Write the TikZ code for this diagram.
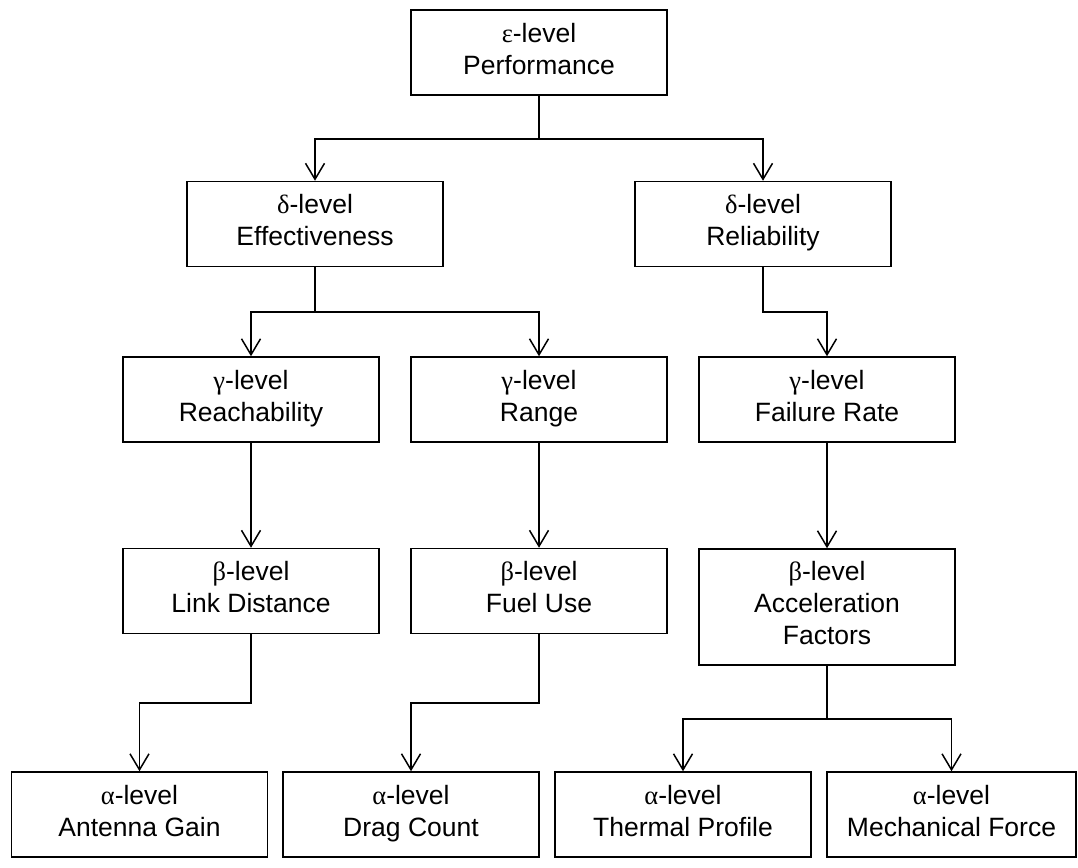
\documentclass[tikz,border=0pt]{standalone}
\usepackage{fontspec}
\setmainfont{Liberation Sans}
\newfontfamily\grk{Liberation Serif}
\usetikzlibrary{arrows.meta}
\newcommand\boxstrut{\rule[-7.5pt]{0pt}{32pt}}
\begin{document}
\begin{tikzpicture}[x=1pt,y=-1pt,
  box/.style={draw,line width=1.5pt,minimum width=256pt,minimum height=85pt,inner sep=0pt,align=center,
    font=\fontsize{26.5}{32}\selectfont,execute at begin node=\boxstrut,execute at end node=\boxstrut},
  arr/.style={line width=1.5pt,-{Straight Barb[length=16pt,width=19pt,line width=1.5pt]}},
  ln/.style={line width=1.5pt}]
\useasboundingbox (0,0) rectangle (1078,867);
\node[box] (eps) at (539,52.5) {{\grk ε}-level\\Performance};
\node[box] (eff) at (315,224) {{\grk δ}-level\\Effectiveness};
\node[box] (rel) at (763,224) {{\grk δ}-level\\Reliability};
\node[box] (reach) at (251,399.5) {{\grk γ}-level\\Reachability};
\node[box] (range) at (539,399.5) {{\grk γ}-level\\Range};
\node[box] (fail) at (827,399.5) {{\grk γ}-level\\Failure Rate};
\node[box] (link) at (251,591) {{\grk β}-level\\Link Distance};
\node[box] (fuel) at (539,591) {{\grk β}-level\\Fuel Use};
\node[box,minimum height=116pt] (accel) at (827,607) {{\grk β}-level\\Acceleration\\Factors};
\node[box] (ant) at (139.5,814.5) {{\grk α}-level\\Antenna Gain};
\node[box] (drag) at (411,814.5) {{\grk α}-level\\Drag Count};
\node[box] (therm) at (683,814.5) {{\grk α}-level\\Thermal Profile};
\node[box,minimum width=249pt] (mech) at (951.5,814.5) {{\grk α}-level\\Mechanical Force};
\coordinate (j1) at (539,139);
\coordinate (j2) at (315,312);
\coordinate (j3) at (763,312);
\coordinate (j4) at (251,703);
\coordinate (j5) at (539,703);
\coordinate (j6) at (827,719);
\draw[ln] (eps.south) -- (j1);
\draw[arr] (j1) -| (eff.north);
\draw[arr] (j1) -| (rel.north);
\draw[ln] (eff.south) -- (j2);
\draw[arr] (j2) -| (reach.north);
\draw[arr] (j2) -| (range.north);
\draw[arr] (rel.south) -- (j3) -| (fail.north);
\draw[arr] (reach.south) -- (link.north);
\draw[arr] (range.south) -- (fuel.north);
\draw[arr] (fail.south) -- (accel.north);
\draw[arr] (link.south) -- (j4) -| (ant.north);
\draw[arr] (fuel.south) -- (j5) -| (drag.north);
\draw[ln] (accel.south) -- (j6);
\draw[arr] (j6) -| (therm.north);
\draw[arr] (j6) -| (mech.north);
\end{tikzpicture}
\end{document}
